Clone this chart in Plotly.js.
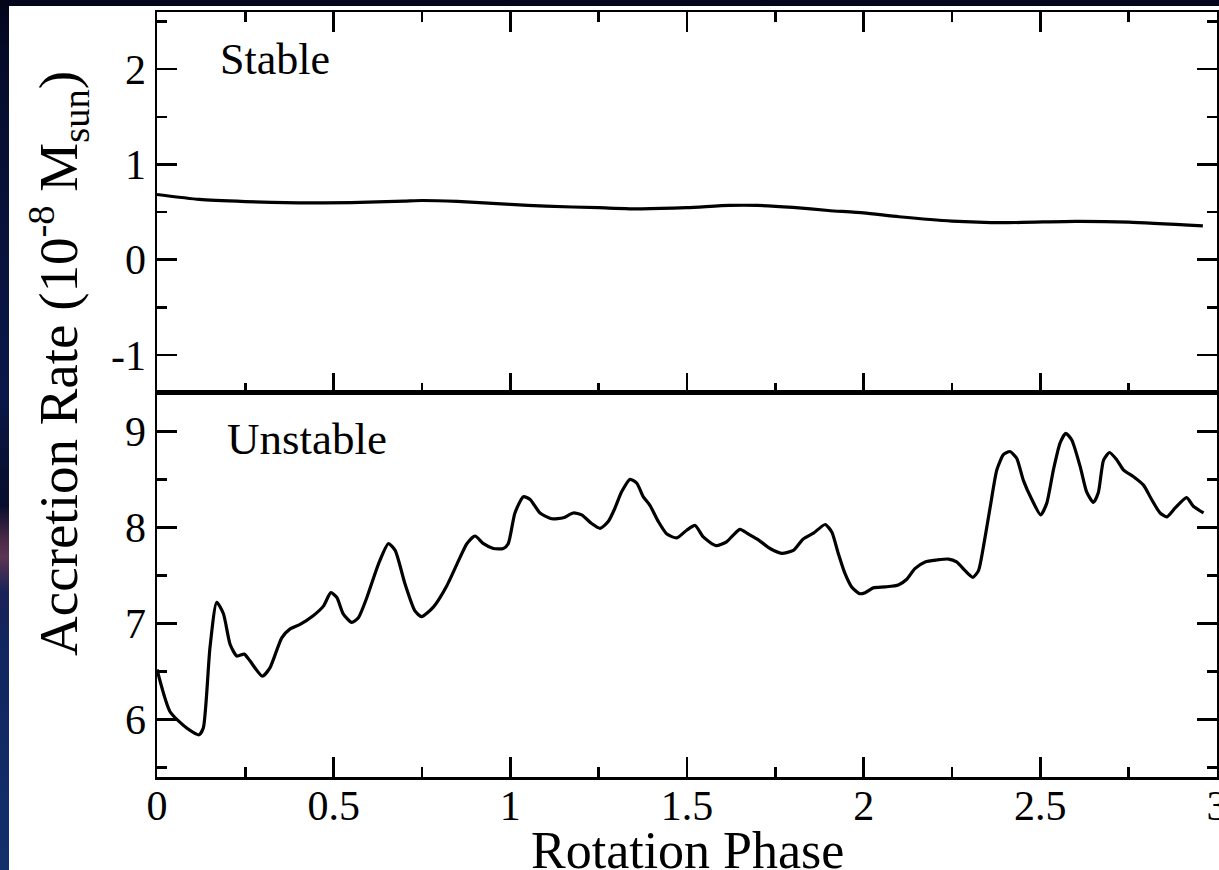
<!DOCTYPE html>
<html>
<head>
<meta charset="utf-8">
<script src="https://cdn.plot.ly/plotly-3.0.1.min.js"></script>
<style>
  html, body { margin: 0; padding: 0; width: 1219px; height: 870px; overflow: hidden;
    background: linear-gradient(to bottom, #03051a 0%, #060d2e 10%, #0a1748 45%, #070d2c 58%, #4a2a48 62%, #5c3552 64%, #1a2258 68%, #10265e 74%, #12306c 100%); }
  #chart { position: absolute; left: 9px; top: 6px; width: 1210px; height: 864px; }
</style>
</head>
<body>
<div id="chart"></div>
<script>
// Stable run (top panel)
const stablePhase = [0, 0.12, 0.25, 0.4, 0.55, 0.7, 0.75, 0.85, 1.0, 1.1, 1.25, 1.37, 1.5, 1.62, 1.7, 1.8, 1.9, 2.0, 2.1, 2.25, 2.4, 2.6, 2.75, 2.96];
const stableRate  = [0.684, 0.632, 0.61, 0.596, 0.598, 0.615, 0.621, 0.611, 0.58, 0.561, 0.545, 0.533, 0.545, 0.569, 0.569, 0.548, 0.516, 0.49, 0.45, 0.404, 0.388, 0.402, 0.394, 0.355];

// Unstable run (bottom panel)
const unstablePhase = [0, 0.037, 0.084, 0.119, 0.131, 0.150, 0.169, 0.188, 0.207, 0.226, 0.247, 0.263, 0.298, 0.320, 0.353, 0.376, 0.405, 0.442, 0.471, 0.492, 0.509, 0.527, 0.551, 0.570, 0.594, 0.627, 0.655, 0.674, 0.702, 0.730, 0.749, 0.782, 0.820, 0.858, 0.877, 0.900, 0.924, 0.952, 0.980, 0.994, 1.013, 1.037, 1.056, 1.084, 1.117, 1.150, 1.178, 1.202, 1.230, 1.254, 1.277, 1.296, 1.315, 1.339, 1.358, 1.376, 1.395, 1.419, 1.443, 1.471, 1.499, 1.523, 1.546, 1.582, 1.612, 1.631, 1.650, 1.674, 1.702, 1.735, 1.768, 1.801, 1.829, 1.858, 1.891, 1.910, 1.928, 1.947, 1.966, 1.988, 2.004, 2.027, 2.061, 2.098, 2.122, 2.145, 2.174, 2.207, 2.240, 2.263, 2.287, 2.309, 2.325, 2.339, 2.358, 2.377, 2.396, 2.414, 2.433, 2.452, 2.476, 2.501, 2.518, 2.537, 2.556, 2.572, 2.589, 2.613, 2.631, 2.650, 2.664, 2.679, 2.696, 2.717, 2.735, 2.763, 2.792, 2.815, 2.839, 2.858, 2.881, 2.914, 2.933, 2.962];
const unstableRate  = [6.52, 6.08, 5.91, 5.84, 5.91, 6.75, 7.22, 7.10, 6.78, 6.66, 6.68, 6.61, 6.45, 6.54, 6.85, 6.94, 6.99, 7.08, 7.18, 7.32, 7.27, 7.10, 7.01, 7.06, 7.27, 7.62, 7.83, 7.76, 7.41, 7.13, 7.07, 7.17, 7.39, 7.69, 7.83, 7.91, 7.83, 7.78, 7.78, 7.83, 8.15, 8.32, 8.29, 8.15, 8.09, 8.10, 8.15, 8.13, 8.04, 7.99, 8.06, 8.20, 8.37, 8.50, 8.46, 8.32, 8.23, 8.06, 7.93, 7.89, 7.97, 8.02, 7.90, 7.81, 7.85, 7.92, 7.98, 7.93, 7.87, 7.78, 7.73, 7.76, 7.88, 7.94, 8.03, 7.95, 7.73, 7.52, 7.38, 7.31, 7.32, 7.37, 7.38, 7.40, 7.46, 7.57, 7.64, 7.66, 7.67, 7.64, 7.55, 7.48, 7.55, 7.80, 8.21, 8.60, 8.76, 8.79, 8.72, 8.49, 8.29, 8.13, 8.25, 8.60, 8.88, 8.98, 8.91, 8.63, 8.37, 8.26, 8.36, 8.70, 8.78, 8.70, 8.60, 8.53, 8.44, 8.29, 8.15, 8.11, 8.20, 8.31, 8.22, 8.15];

// Tick labels
const xTickVals = [0, 0.5, 1, 1.5, 2, 2.5, 3];
const xTickText = ['0', '0.5', '1', '1.5', '2', '2.5', '3'];
const topTickVals = [-1, 0, 1, 2];
const topTickText = ['-1', '0', '1', '2'];
const botTickVals = [6, 7, 8, 9];
const botTickText = ['6', '7', '8', '9'];

// Text
const panelLabels = ['Stable', 'Unstable'];
const xTitle = 'Rotation Phase';
const yTitle = 'Accretion Rate (10<sup>-8</sup> M<sub>sun</sub>)';

const FONT = "'Liberation Serif', 'Times New Roman', serif";
const lineStyle = { color: '#000', width: 3.2, shape: 'spline', smoothing: 0.6 };

const traces = [
  { x: stablePhase, y: stableRate, xaxis: 'x2', yaxis: 'y2', mode: 'lines', line: lineStyle, hoverinfo: 'skip' },
  { x: unstablePhase, y: unstableRate, xaxis: 'x', yaxis: 'y', mode: 'lines', line: lineStyle, hoverinfo: 'skip' }
];

const axisCommon = {
  showgrid: false, zeroline: false, showline: true, linecolor: '#000', linewidth: 2.5,
  ticks: 'inside', ticklen: 20, tickwidth: 2.5, tickcolor: '#000',
  ticklabeloverflow: 'allow',
  tickfont: { family: FONT, size: 42, color: '#000' }
};

const layout = {
  width: 1210, height: 864,
  margin: { l: 148, r: 2, t: 6, b: 93 },
  paper_bgcolor: '#fff', plot_bgcolor: '#fff',
  font: { family: FONT, color: '#000' },
  showlegend: false,
  xaxis: Object.assign({}, axisCommon, {
    domain: [0, 1], range: [0, 3], anchor: 'y', mirror: true,
    tickmode: 'array', tickvals: xTickVals, ticktext: xTickText, ticklabelstandoff: -10,
    minor: { dtick: 0.25, tick0: 0, ticklen: 10, tickwidth: 2.5, tickcolor: '#000', ticks: 'inside', showgrid: false }
  }),
  xaxis2: Object.assign({}, axisCommon, {
    domain: [0, 1], range: [0, 3], anchor: 'y2', mirror: 'ticks', showticklabels: false,
    tickmode: 'array', tickvals: xTickVals,
    minor: { dtick: 0.25, tick0: 0, ticklen: 10, tickwidth: 2.5, tickcolor: '#000', ticks: 'inside', showgrid: false }
  }),
  yaxis: Object.assign({}, axisCommon, {
    domain: [0, 0.502], range: [5.4, 9.4], anchor: 'x', mirror: 'ticks',
    tickmode: 'array', tickvals: botTickVals, ticktext: botTickText,
    minor: { dtick: 0.5, tick0: 0, ticklen: 10, tickwidth: 2.5, tickcolor: '#000', ticks: 'inside', showgrid: false }
  }),
  yaxis2: Object.assign({}, axisCommon, {
    domain: [0.502, 1], range: [-1.4, 2.6], anchor: 'x2', mirror: 'ticks',
    tickmode: 'array', tickvals: topTickVals, ticktext: topTickText,
    minor: { dtick: 0.5, tick0: 0, ticklen: 10, tickwidth: 2.5, tickcolor: '#000', ticks: 'inside', showgrid: false }
  }),
  annotations: [
    { text: panelLabels[0], xref: 'paper', yref: 'paper', x: 0.058, y: 0.938, xanchor: 'left', yanchor: 'middle',
      showarrow: false, font: { family: FONT, size: 44, color: '#000' } },
    { text: panelLabels[1], xref: 'paper', yref: 'paper', x: 0.064, y: 0.442, xanchor: 'left', yanchor: 'middle',
      showarrow: false, font: { family: FONT, size: 45, color: '#000' } },
    { text: xTitle, xref: 'paper', yref: 'paper', x: 0.5, y: 0, xanchor: 'center', yanchor: 'middle', yshift: -73,
      showarrow: false, font: { family: FONT, size: 52, color: '#000' } },
    { text: yTitle, xref: 'paper', yref: 'paper', x: 0, y: 0.540, xanchor: 'center', yanchor: 'middle', xshift: -98,
      textangle: -90, showarrow: false, font: { family: FONT, size: 55, color: '#000' } }
  ]
};

Plotly.newPlot('chart', traces, layout, { displayModeBar: false, staticPlot: true });
</script>
</body>
</html>
